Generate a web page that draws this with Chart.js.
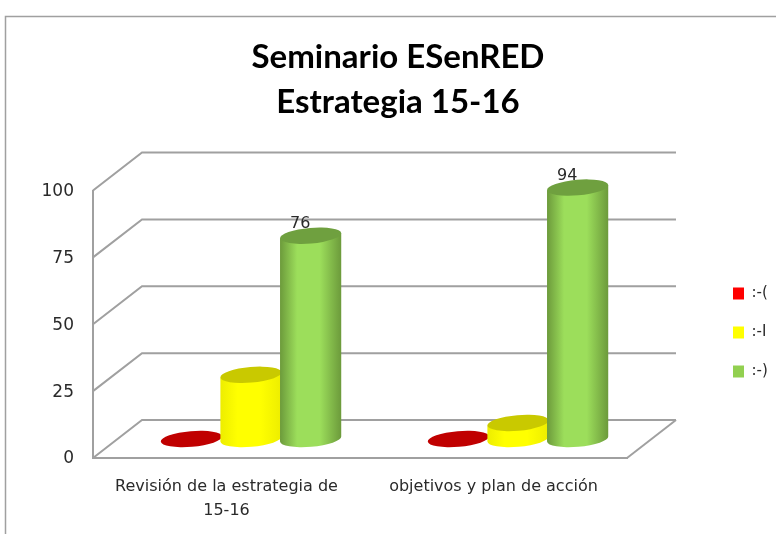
<!DOCTYPE html>
<html>
<head>
<meta charset="utf-8">
<title>Seminario ESenRED</title>
<script src="https://cdn.jsdelivr.net/npm/chart.js@4/dist/chart.umd.min.js"></script>
<style>
  html, body { margin: 0; padding: 0; background: #fff; overflow: hidden; }
  #wrap { width: 776px; height: 534px; }
  /* the reference is a soft, rescaled screenshot */
  canvas { filter: blur(0.4px); }
</style>
</head>
<body>
<div id="wrap"><canvas id="chart" width="776" height="534"></canvas></div>
<script>
var titleLines = ['Seminario ESenRED', 'Estrategia 15-16'];
var categories = [['Revisión de la estrategia de', '15-16'], 'objetivos y plan de acción'];
var seriesNames = [':-(', ':-I', ':-)'];
var sadValues = [0, 0];
var neutralValues = [24, 6];
var happyValues = [76, 94];
var valueTicks = [0, 25, 50, 75, 100];

var DEPTH_X = 49;
var DEPTH_Y = 38;
var TILT = -0.085;
var CAP_RY = 7.8;
var GRID = '#a0a0a0';
var TEXT = '#2a2a2a';
var FONT_NAME = '"DejaVu Sans"';

// colours of each cylinder: flat legend, shaded side, darker cap
var looks = [
  { legend: '#ff0000', edge: '#c00000', mid: '#ff0000', cap: '#c00000' },
  { legend: '#ffff00', edge: '#eded00', mid: '#ffff00', cap: '#c9c900' },
  { legend: '#92d050', edge: '#6c9a3b', mid: '#9cde5b', cap: '#6fa03f' }
];

function drawCylinder(ctx, bar, look) {
  var rx = bar.width / 2;
  var cx = bar.x + DEPTH_X / 2;
  var topY = bar.y - DEPTH_Y / 2;
  var baseY = bar.base - DEPTH_Y / 2;
  var dx = rx * Math.cos(TILT);
  var dy = rx * Math.sin(TILT);

  if (baseY - topY > 0.5) {
    var side = ctx.createLinearGradient(cx - rx, 0, cx + rx, 0);
    side.addColorStop(0, look.edge);
    side.addColorStop(0.28, look.mid);
    side.addColorStop(0.65, look.mid);
    side.addColorStop(1, look.edge);
    ctx.beginPath();
    ctx.ellipse(cx, baseY, rx, CAP_RY, TILT, Math.PI, 0, true);
    ctx.lineTo(cx + dx, topY + dy);
    ctx.lineTo(cx - dx, topY - dy);
    ctx.closePath();
    ctx.fillStyle = side;
    ctx.fill();
  }
  ctx.beginPath();
  ctx.ellipse(cx, topY, rx, CAP_RY, TILT, 0, Math.PI * 2);
  ctx.fillStyle = look.cap;
  ctx.fill();
}

var scene = {
  id: 'scene',
  beforeLayout: function(chart) {
    // leave the gap between plot and legend, keep the legend's own fit otherwise
    if (chart.legend.fit.patched) return;
    var fit = chart.legend.fit;
    chart.legend.fit = function() {
      fit.call(chart.legend);
      chart.legend.width = 149;
    };
    chart.legend.fit.patched = true;
  },
  afterLayout: function(chart) {
    chart.legend.left = 709;
    chart.legend.right = 776;
    chart.legend.top = 262;
    chart.legend.bottom = 534;
    chart.titleBlock.left += 10;
    chart.titleBlock.right += 10;
  },
  beforeDraw: function(chart) {
    var ctx = chart.ctx;
    ctx.save();
    ctx.strokeStyle = '#a0a0a0';
    ctx.lineWidth = 1.5;
    ctx.beginPath();
    ctx.moveTo(5.5, 534);
    ctx.lineTo(5.5, 16.5);
    ctx.lineTo(776, 16.5);
    ctx.stroke();
    ctx.restore();
  },
  beforeDatasetsDraw: function(chart) {
    // back wall and floor of the box, taken from the axes
    var ctx = chart.ctx;
    var area = chart.chartArea;
    var y = chart.scales.y;
    ctx.save();
    ctx.strokeStyle = GRID;
    ctx.lineWidth = 2;
    valueTicks.forEach(function(t) {
      var py = y.getPixelForValue(t);
      ctx.beginPath();
      ctx.moveTo(area.left, py);
      ctx.lineTo(area.left + DEPTH_X, py - DEPTH_Y);
      ctx.lineTo(area.right + DEPTH_X, py - DEPTH_Y);
      ctx.stroke();
    });
    var py0 = y.getPixelForValue(0);
    ctx.beginPath();
    ctx.moveTo(area.right, py0);
    ctx.lineTo(area.right + DEPTH_X, py0 - DEPTH_Y);
    ctx.stroke();
    ctx.restore();
  },
  // the flat bars are replaced by cylinders, painted in afterDatasetsDraw
  beforeDatasetDraw: function() {
    return false;
  },
  afterDatasetsDraw: function(chart) {
    var ctx = chart.ctx;
    ctx.save();
    chart.data.datasets.forEach(function(ds, i) {
      chart.getDatasetMeta(i).data.forEach(function(bar) {
        drawCylinder(ctx, bar, looks[i]);
      });
    });
    // only the last series carries value labels
    ctx.font = '16px ' + FONT_NAME;
    ctx.fillStyle = TEXT;
    ctx.textAlign = 'center';
    ctx.textBaseline = 'middle';
    chart.getDatasetMeta(2).data.forEach(function(bar, i) {
      ctx.fillText(String(happyValues[i]), bar.x + 14, bar.y - 31);
    });
    ctx.restore();
  }
};

new Chart(document.getElementById('chart'), {
  type: 'bar',
  data: {
    labels: categories,
    datasets: [
      { label: seriesNames[0], data: sadValues, backgroundColor: looks[0].legend },
      { label: seriesNames[1], data: neutralValues, backgroundColor: looks[1].legend },
      { label: seriesNames[2], data: happyValues, backgroundColor: looks[2].legend }
    ]
  },
  options: {
    responsive: false,
    animation: false,
    layout: { padding: 0 },
    datasets: { bar: { categoryPercentage: 0.67, barPercentage: 1.03 } },
    plugins: {
      title: {
        display: true,
        text: titleLines,
        color: '#000',
        font: { family: 'Lato', size: 33, weight: 'bold', lineHeight: 1.364 },
        padding: { top: 34.5, bottom: 66 }
      },
      legend: {
        position: 'right',
        align: 'start',
        labels: {
          boxWidth: 11,
          boxHeight: 12,
          padding: 24,
          color: TEXT,
          font: { family: FONT_NAME, size: 15 }
        }
      },
      tooltip: { enabled: false }
    },
    scales: {
      x: {
        grid: { display: false },
        border: { color: GRID, width: 2 },
        ticks: {
          color: TEXT,
          padding: 8,
          maxRotation: 0,
          autoSkip: false,
          font: { family: FONT_NAME, size: 16, lineHeight: 1.55 }
        },
        afterFit: function(s) { s.height = 76; }
      },
      y: {
        min: 0,
        max: 100,
        grid: { display: false },
        border: { color: GRID, width: 2 },
        ticks: {
          stepSize: 25,
          color: TEXT,
          padding: 11,
          labelOffset: 1,
          font: { family: FONT_NAME, size: 17 }
        },
        afterFit: function(s) { s.width = 93; }
      }
    }
  },
  plugins: [scene]
});
</script>
</body>
</html>
